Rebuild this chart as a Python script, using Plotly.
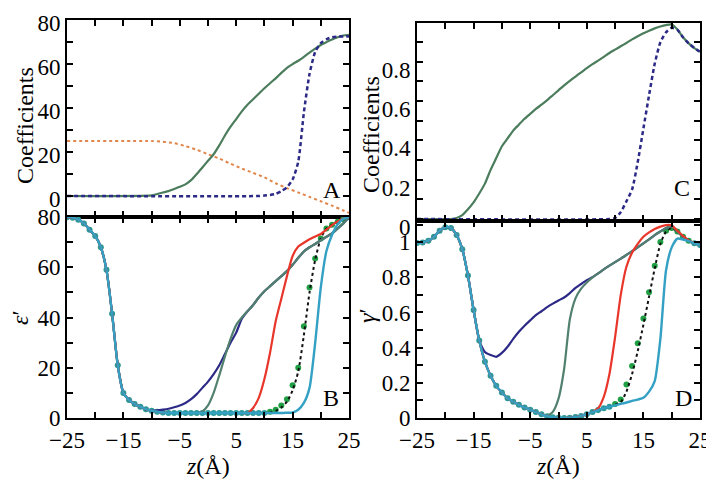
import plotly.graph_objects as go

# ---------------- data ----------------
Z = list(range(-25, 26))

# Panel A (coefficients)
zA_orange = [-25, -10, -8, -6, -4, -2, 0, 2, 4, 6, 8, 10, 12, 14, 16, 18, 20, 22, 24, 25]
vA_orange = [25, 25, 24.7, 24, 22.7, 21, 19, 17, 14.7, 12.5, 10.5, 8.5, 5.8, 3.6, 1.6, -0.4, -2.4, -4.4, -6.6, -7.7]
zA_green = [-25, -10, -9, -8, -7, -6, -5, -4, -3, -2, -1, 0, 1, 2, 3, 4, 5, 6, 7, 8, 9, 10, 11, 12, 13,
            14, 15, 16, 17, 18, 19, 20, 21, 22, 23, 24, 25]
vA_green = [0, 0.3, 0.9, 1.6, 2.2, 3.2, 4.2, 5.3, 7.2, 10, 13, 16, 19, 23, 27.5, 31.5, 35, 38.5, 41.5, 44,
            46.5, 49, 51.3, 53.5, 56, 58.3, 60, 61.5, 63.3, 65.2, 67, 68.7, 70, 71.2, 72.2, 73, 73.3]
zA_blue = [-25, 9, 10, 11, 12, 13, 14, 15, 16, 17, 18, 19, 20, 21, 22, 23, 24, 25]
vA_blue = [0, 0, 0.2, 0.5, 1, 2.2, 4, 7.5, 15.5, 38, 55.5, 65.5, 69.5, 71.3, 72.2, 72.5, 72.6, 72.6]

# Panel C (coefficients)
zC_green = [-25, -19, -18, -17, -16, -15, -14, -13, -12, -11, -10, -9, -8, -7, -6, -5, -4, -3, -2, -1, 0,
            1, 2, 3, 4, 5, 6, 7, 8, 9, 10, 11, 12, 13, 14, 15, 16, 17, 18, 19, 20, 21, 22, 23, 24, 25]
vC_green = [0, 0, 0.005, 0.02, 0.05, 0.085, 0.13, 0.18, 0.25, 0.31, 0.37, 0.41, 0.45, 0.48, 0.51, 0.535,
            0.56, 0.582, 0.605, 0.63, 0.655, 0.68, 0.703, 0.725, 0.746, 0.768, 0.788, 0.806, 0.825, 0.845,
            0.862, 0.879, 0.896, 0.914, 0.93, 0.945, 0.958, 0.97, 0.98, 0.987, 0.99, 0.965, 0.925, 0.894,
            0.87, 0.851]
zC_blue = [-25, 9, 10, 11, 12, 13, 14, 15, 16, 17, 18, 19, 20, 21, 22, 23, 24, 25]
vC_blue = [0, 0, 0.005, 0.035, 0.09, 0.15, 0.29, 0.46, 0.63, 0.79, 0.9, 0.95, 0.973, 0.963, 0.925, 0.894,
           0.87, 0.851]

# Panel B (epsilon'), z = -25..25
B_common = [80, 79.8, 79, 77.5, 75, 72.5, 68, 59, 41.5, 21, 10, 7.2, 5.6, 4.5, 3.5, 2.9]  # z -25..-10
B_navy = [3.0, 3.3, 3.7, 4.3, 5.0, 6.0, 7.5, 9.5, 12, 14.5, 17.5, 21, 25.5, 30, 34, 39.5, 42.5, 45, 48,
          50.5, 52.5, 54.5, 56.5, 58.5, 61, 63.8, 66.3, 68, 69.3, 70.8, 72.2, 73.5, 75.5, 77.5, 80]
B_gray = [2.5, 2.2, 2.0, 2.0, 2.0, 2.0, 2.0, 2.0, 2.6, 5, 10, 17, 24.5, 31.5, 37, 40, 42.5, 45, 48,
          50.5, 52.5, 54.5, 56.5, 58.5, 61, 63.8, 66.3, 68, 69.3, 70.8, 72.2, 73.5, 75.5, 77.5, 80]
B_red = [2.5, 2.2, 2.0, 2.0, 2.0, 2.0, 2.0, 2.0, 2.0, 2.0, 2.0, 2.0, 2.0, 2.0, 2.0, 2.0, 2.0, 4, 8,
         15.5, 26, 38.5, 47.5, 56.5, 64.5, 68.3, 69.8, 71.2, 72.3, 73.3, 75, 76.8, 78.3, 79.4, 80]
B_dots = [2.5, 2.2, 2.0, 2.0, 2.0, 2.0, 2.0, 2.0, 2.0, 2.0, 2.0, 2.0, 2.0, 2.0, 2.0, 2.0, 2.0, 2.0, 2.0,
          2.0, 2.5, 3.3, 5, 7.5, 13, 20, 36.5, 52, 63.5, 71.5, 75.5, 77, 78.2, 79.2, 80]
B_black = [2.5, 2.2, 2.0, 2.0, 2.0, 2.0, 2.0, 2.0, 2.0, 2.0, 2.0, 2.0, 2.0, 2.0, 2.0, 2.0, 2.0, 2.0, 2.0,
           2.0, 2.2, 2.8, 4.2, 6.5, 11, 18.5, 33, 50, 63, 71.5, 75.5, 77, 78.2, 79.2, 80]
B_cyan = [2.5, 2.2, 2.0, 2.0, 2.0, 2.0, 2.0, 2.0, 2.0, 2.0, 2.0, 2.0, 2.0, 2.0, 2.0, 2.0, 2.0, 2.0, 2.0,
          2.0, 2.0, 2.0, 2.0, 2.1, 2.2, 3.3, 6, 12, 29.9, 52, 66.5, 73, 77.2, 79.3, 80]

# Panel D (gamma'), z = -25..25
D_common = [0.995, 0.998, 1.008, 1.03, 1.065, 1.085, 1.08, 1.04, 0.96, 0.81, 0.614]  # z -25..-15
D_navy = [0.44, 0.375, 0.358, 0.348, 0.37, 0.405, 0.45, 0.49, 0.525, 0.555, 0.585, 0.607, 0.63, 0.65,
          0.668, 0.685, 0.71, 0.74, 0.762, 0.784, 0.8, 0.822, 0.845, 0.866, 0.886, 0.906, 0.927, 0.948,
          0.97, 0.993, 1.016, 1.04, 1.06, 1.08, 1.09, 1.06, 1.03, 1.008, 0.993, 0.983]
D_gray = [0.44, 0.32, 0.24, 0.183, 0.145, 0.112, 0.092, 0.075, 0.06, 0.047, 0.034, 0.021, 0.012, 0.035,
          0.11, 0.28, 0.56, 0.68, 0.735, 0.77, 0.8, 0.822, 0.845, 0.866, 0.886, 0.906, 0.927, 0.948,
          0.97, 0.993, 1.016, 1.04, 1.06, 1.08, 1.09, 1.06, 1.03, 1.008, 0.993, 0.983]
D_red = [0.44, 0.32, 0.24, 0.183, 0.145, 0.112, 0.092, 0.075, 0.06, 0.047, 0.034, 0.021, 0.01, 0.004,
         0.001, 0.0, 0.002, 0.006, 0.012, 0.022, 0.034, 0.055, 0.12, 0.25, 0.46, 0.7, 0.86, 0.94, 0.99,
         1.03, 1.055, 1.075, 1.088, 1.097, 1.095, 1.065, 1.035, 1.01, 0.993, 0.983]
D_dots = [0.44, 0.32, 0.24, 0.183, 0.145, 0.112, 0.092, 0.075, 0.06, 0.047, 0.034, 0.021, 0.01, 0.004,
          0.001, 0.0, 0.002, 0.006, 0.012, 0.022, 0.034, 0.045, 0.055, 0.064, 0.08, 0.105, 0.19, 0.295,
          0.425, 0.565, 0.715, 0.865, 1.0, 1.065, 1.08, 1.06, 1.03, 1.008, 0.993, 0.983]
D_black = [0.44, 0.32, 0.24, 0.183, 0.145, 0.112, 0.092, 0.075, 0.06, 0.047, 0.034, 0.021, 0.01, 0.004,
           0.001, 0.0, 0.002, 0.006, 0.012, 0.022, 0.034, 0.045, 0.055, 0.064, 0.075, 0.09, 0.15, 0.25,
           0.38, 0.53, 0.69, 0.85, 0.99, 1.06, 1.08, 1.06, 1.03, 1.008, 0.993, 0.983]
D_cyan = [0.44, 0.32, 0.24, 0.183, 0.145, 0.112, 0.092, 0.075, 0.06, 0.047, 0.034, 0.021, 0.01, 0.004,
          0.001, 0.0, 0.002, 0.006, 0.012, 0.022, 0.034, 0.045, 0.055, 0.064, 0.072, 0.08, 0.088, 0.097,
          0.105, 0.115, 0.15, 0.21, 0.45, 0.84, 0.97, 1.02, 1.015, 1.005, 0.993, 0.983]

X_TICK0, X_DTICK = -25, 10

# ---------------- styles ----------------
NAVY = "#2c2a86"
GREEN_A = "#4b7d5c"
GRAY = "#52806e"
RED = "#e8362a"
CYAN = "#33a0c4"
DOTG = "#20a044"
TEAL = "#2a9a96"
ORANGE = "#e0864a"
FONT = "Liberation Serif"

fig = go.Figure()

def line(x, y, color, ax, width=2.2, dash=None, smooth=0.6):
    fig.add_trace(go.Scatter(x=x, y=y, mode="lines", xaxis=ax[0], yaxis=ax[1],
                             line=dict(color=color, width=width, dash=dash, shape="spline",
                                       smoothing=smooth),
                             showlegend=False, hoverinfo="skip"))

# Panel A
line(zA_orange, vA_orange, ORANGE, ("x", "y"), width=2, dash="dot")
line(zA_green, vA_green, GREEN_A, ("x", "y"))
line(zA_blue, vA_blue, NAVY, ("x", "y"), width=2.5, dash="4px,3px")

# Panel C
line(zC_green, vC_green, GREEN_A, ("x3", "y3"))
line(zC_blue, vC_blue, NAVY, ("x3", "y3"), width=2.5, dash="4px,3px")

def panel_bd(common, navy, gray, red, dots, black, cyan, ax):
    full = lambda t: common + t
    cy = full(cyan)
    dv = full(dots)
    cols = [TEAL if abs(a - b) < 1e-9 else DOTG for a, b in zip(dv, cy)]
    fig.add_trace(go.Scatter(x=Z, y=dv, mode="markers", xaxis=ax[0], yaxis=ax[1],
                             marker=dict(color=cols, size=6), showlegend=False, hoverinfo="skip"))
    line(Z, full(black), "#111111", ax, width=2, dash="3px,3px")
    line(Z, full(navy), NAVY, ax)
    line(Z, full(gray), GRAY, ax)
    line(Z, full(red), RED, ax)
    line(Z, cy, CYAN, ax, width=2.4)

panel_bd(B_common, B_navy, B_gray, B_red, B_dots, B_black, B_cyan, ("x2", "y2"))
panel_bd(D_common, D_navy, D_gray, D_red, D_dots, D_black, D_cyan, ("x4", "y4"))

# the page body has an 8px margin, so the figure starts at (8, 8)
OFF = 8
W, H = 714 - OFF, 487 - OFF
def px(X):
    return (X - OFF) / W
def py(Y):
    return 1 - (Y - OFF) / H
def dx(a, b):
    return [px(a), px(b)]
def dy(top, bot):
    return [py(bot), py(top)]

tickfont = dict(family=FONT, size=23, color="black")

def xaxis(dom, anchor, labels):
    return dict(domain=dom, anchor=anchor, range=[-25, 25], showline=True, linecolor="black",
                linewidth=2, mirror="ticks", ticks="inside", ticklen=6, tickwidth=1.5,
                tickcolor="black", tick0=X_TICK0, dtick=X_DTICK, showticklabels=labels,
                tickfont=tickfont, showgrid=False, zeroline=False, automargin=False,
                ticklabeloverflow="allow",
                minor=dict(ticks="inside", dtick=5, tick0=-25, ticklen=6, tickwidth=1.5,
                           tickcolor="black", showgrid=False))

def yaxis(dom, anchor, rng, dtick, mdtick, shift=0):
    return dict(domain=dom, anchor=anchor, range=rng, showline=True, linecolor="black",
                linewidth=2, mirror="ticks", ticks="inside", ticklen=6, tickwidth=1.5,
                tickcolor="black", tick0=0, dtick=dtick, tickfont=tickfont, showgrid=False,
                zeroline=False, automargin=False, ticklabelshift=shift,
                ticklabeloverflow="allow",
                minor=dict(ticks="inside", dtick=mdtick, tick0=0, ticklen=6, tickwidth=1.5,
                           tickcolor="black", showgrid=False))

fig.update_layout(
    width=W, height=H, margin=dict(l=0, r=0, t=0, b=0),
    paper_bgcolor="white", plot_bgcolor="white",
    font=dict(family=FONT, color="black"),
    xaxis=xaxis(dx(67, 349), "y", False),
    yaxis=yaxis(dy(20, 217), "x", [-9.55, 80.05], 20, 10, shift=3),
    xaxis2=xaxis(dx(67, 349), "y2", True),
    yaxis2=yaxis(dy(217, 418), "x2", [0, 80.05], 20, 10),
    xaxis3=xaxis(dx(417, 700), "y3", False),
    yaxis3=yaxis(dy(23, 221), "x3", [-0.0102, 0.9975], 0.2, 0.1, shift=8),
    xaxis4=xaxis(dx(417, 700), "y4", True),
    yaxis4=yaxis(dy(221, 418), "x4", [0, 1.12], 0.2, 0.1),
)

def ann(text, x, y, size=24, angle=0):
    fig.add_annotation(text=text, x=px(x), y=py(y), xref="paper", yref="paper",
                       showarrow=False, textangle=angle, xanchor="center", yanchor="middle",
                       font=dict(family=FONT, size=size, color="black"))

ann("Coefficients", 25, 126, angle=-90)
ann("Coefficients", 371, 135, angle=-90)
ann("<i>ε</i>′", 20, 318, angle=-90)
ann("<i>γ</i>′", 367, 316, angle=-90)
ann("<i>z</i>(Å)", 208, 466)
ann("<i>z</i>(Å)", 558, 466)
ann("A", 332, 190)
ann("B", 331, 398)
ann("C", 682, 188)
ann("D", 683, 398)

fig.write_html("out.html")
